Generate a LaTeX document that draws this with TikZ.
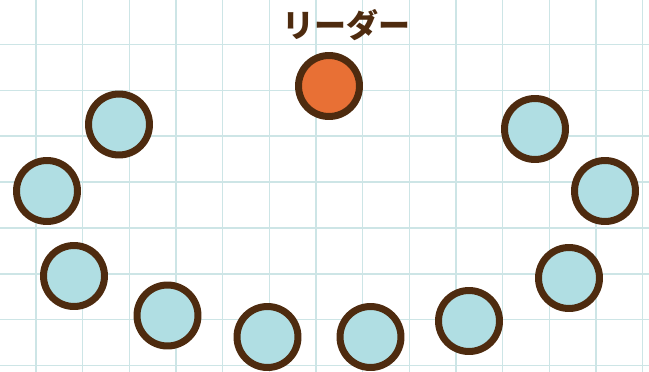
\documentclass[tikz,border=0pt]{standalone}
\usepackage{fontspec}
\newfontfamily\jpfont{Noto Sans CJK JP}
\definecolor{gridcyan}{HTML}{CDE5E6}
\definecolor{outline}{HTML}{4E2B0F}
\definecolor{member}{HTML}{B0DEE3}
\definecolor{leader}{HTML}{E87035}

\begin{document}
\begin{tikzpicture}[x=1pt, y=-1pt, line cap=round, line join=round,
	person/.style={circle, draw=outline, line width=7pt, fill=member, minimum size=61pt, inner sep=0pt},
	boss/.style={person, fill=leader},
	title/.style={font=\jpfont\bfseries\fontsize{32}{32}\selectfont, text=outline}]
			\useasboundingbox (0,0) rectangle (649,372);
			% grid
			\foreach \gx in {0,...,13}
				\draw [gridcyan, line width=1.4pt] (36+46.67*\gx,0) -- (36+46.67*\gx,372);
			\foreach \gy in {0,...,7}
				\draw [gridcyan, line width=1.4pt] (0,44.3+45.9*\gy) -- (649,44.3+45.9*\gy);
			% leader
			\node [boss] (lead) at (329,86) {};
			\node [title] (leadtext) at (346,25) {リーダー};
			% members
			\node [person] (m1) at (119,124.5) {};
			\node [person] (m2) at (47,191) {};
			\node [person] (m3) at (74,276) {};
			\node [person] (m4) at (167.5,315.5) {};
			\node [person] (m5) at (267.5,337) {};
			\node [person] (m6) at (370.5,337) {};
			\node [person] (m7) at (469,321) {};
			\node [person] (m8) at (569,278) {};
			\node [person] (m9) at (605,191) {};
			\node [person] (m10) at (535,129) {};
		\end{tikzpicture}
\end{document}
